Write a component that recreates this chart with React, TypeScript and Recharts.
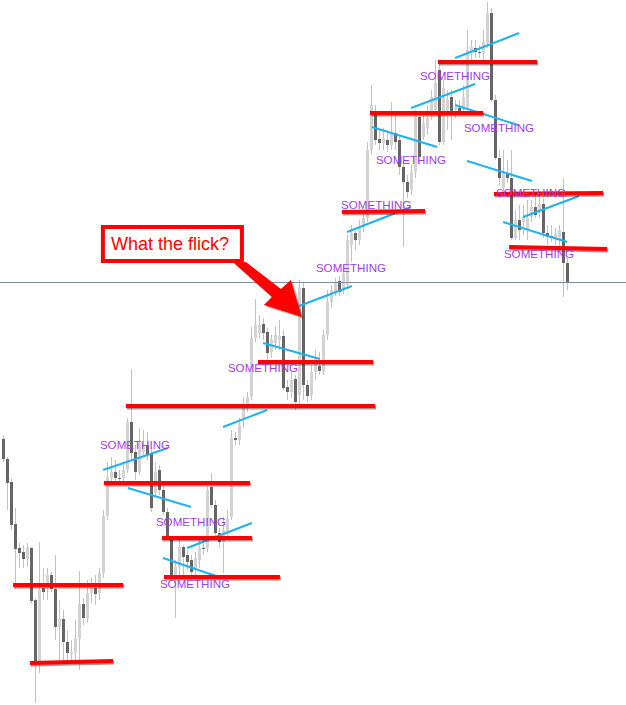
import React from 'react';
import { ComposedChart, Bar, XAxis, YAxis, ReferenceLine, ReferenceDot } from 'recharts';

// ---- candle data (EURUSD-like prices) ----
const opens = [
  1.1266, 1.1246, 1.1223, 1.1181, 1.1157, 1.1153, 1.1146, 1.1157, 1.1105, 1.1043,
  1.1117, 1.1117, 1.1130, 1.1116, 1.1078, 1.1086, 1.1063, 1.1051, 1.1052, 1.1066,
  1.1101, 1.1086, 1.1112, 1.1117, 1.1112, 1.1132, 1.1189, 1.1227, 1.1233, 1.1227,
  1.1227, 1.1235, 1.1283, 1.1253, 1.1233, 1.1253, 1.1260, 1.1252, 1.1213, 1.1235,
  1.1215, 1.1193, 1.1165, 1.1128, 1.1138, 1.1158, 1.1150, 1.1145, 1.1135, 1.1145,
  1.1157, 1.1157, 1.1218, 1.1200, 1.1172, 1.1163, 1.1173, 1.1188, 1.1267, 1.1265,
  1.1287, 1.1298, 1.1308, 1.1367, 1.1372, 1.1381, 1.1373, 1.1353, 1.1362, 1.1365,
  1.1369, 1.1318, 1.1313, 1.1326, 1.1310, 1.1417, 1.1320, 1.1310, 1.1333, 1.1339,
  1.1333, 1.1370, 1.1403, 1.1413, 1.1424, 1.1415, 1.1420, 1.1460, 1.1472, 1.1465,
  1.1478, 1.1487, 1.1555, 1.1590, 1.1566, 1.1562, 1.1565, 1.1560, 1.1572, 1.1565,
  1.1538, 1.1523, 1.1515, 1.1533, 1.1588, 1.1568, 1.1577, 1.1588, 1.1595, 1.1635,
  1.1563, 1.1595, 1.1608, 1.1595, 1.1597, 1.1595, 1.1598, 1.1652, 1.1657, 1.1653,
  1.1652, 1.1662, 1.1692, 1.1605, 1.1547, 1.1517, 1.1532, 1.1527, 1.1467, 1.1485,
  1.1483, 1.1475, 1.1488, 1.1498, 1.1493, 1.1501, 1.1472, 1.1469, 1.1467, 1.1465,
  1.1473, 1.1442,
];
const highs = [
  1.1270, 1.1248, 1.1227, 1.1197, 1.1162, 1.1160, 1.1162, 1.1158, 1.1107, 1.1163,
  1.1137, 1.1137, 1.1133, 1.1150, 1.1105, 1.1095, 1.1075, 1.1065, 1.1085, 1.1134,
  1.1107, 1.1125, 1.1127, 1.1130, 1.1137, 1.1195, 1.1243, 1.1248, 1.1245, 1.1235,
  1.1243, 1.1287, 1.1336, 1.1260, 1.1277, 1.1275, 1.1273, 1.1257, 1.1243, 1.1240,
  1.1220, 1.1197, 1.1168, 1.1145, 1.1165, 1.1160, 1.1155, 1.1150, 1.1153, 1.1165,
  1.1165, 1.1219, 1.1232, 1.1205, 1.1177, 1.1188, 1.1195, 1.1275, 1.1273, 1.1287,
  1.1308, 1.1313, 1.1378, 1.1406, 1.1390, 1.1387, 1.1377, 1.1370, 1.1379, 1.1385,
  1.1375, 1.1325, 1.1333, 1.1330, 1.1425, 1.1422, 1.1325, 1.1340, 1.1355, 1.1353,
  1.1375, 1.1415, 1.1420, 1.1427, 1.1429, 1.1440, 1.1470, 1.1480, 1.1477, 1.1485,
  1.1493, 1.1563, 1.1620, 1.1600, 1.1575, 1.1577, 1.1575, 1.1603, 1.1590, 1.1570,
  1.1545, 1.1530, 1.1540, 1.1595, 1.1593, 1.1590, 1.1600, 1.1615, 1.1645, 1.1643,
  1.1625, 1.1615, 1.1615, 1.1605, 1.1605, 1.1620, 1.1675, 1.1665, 1.1665, 1.1660,
  1.1675, 1.1703, 1.1697, 1.1610, 1.1555, 1.1555, 1.1545, 1.1555, 1.1495, 1.1500,
  1.1500, 1.1505, 1.1505, 1.1510, 1.1510, 1.1507, 1.1480, 1.1480, 1.1477, 1.1480,
  1.1527, 1.1447,
];
const lows = [
  1.1243, 1.1195, 1.1175, 1.1116, 1.1137, 1.1137, 1.1138, 1.1102, 1.1002, 1.1032,
  1.1105, 1.1105, 1.1113, 1.1065, 1.1045, 1.1045, 1.1042, 1.1042, 1.1042, 1.1035,
  1.1080, 1.1082, 1.1102, 1.1100, 1.1105, 1.1127, 1.1185, 1.1220, 1.1222, 1.1220,
  1.1220, 1.1232, 1.1245, 1.1225, 1.1230, 1.1250, 1.1245, 1.1193, 1.1210, 1.1210,
  1.1190, 1.1165, 1.1125, 1.1087, 1.1130, 1.1130, 1.1135, 1.1125, 1.1130, 1.1137,
  1.1150, 1.1153, 1.1197, 1.1165, 1.1157, 1.1132, 1.1165, 1.1185, 1.1260, 1.1260,
  1.1277, 1.1293, 1.1305, 1.1363, 1.1367, 1.1365, 1.1345, 1.1347, 1.1355, 1.1355,
  1.1315, 1.1305, 1.1307, 1.1295, 1.1300, 1.1305, 1.1303, 1.1305, 1.1325, 1.1330,
  1.1330, 1.1365, 1.1397, 1.1409, 1.1409, 1.1411, 1.1415, 1.1443, 1.1455, 1.1460,
  1.1473, 1.1483, 1.1550, 1.1560, 1.1555, 1.1555, 1.1553, 1.1555, 1.1555, 1.1530,
  1.1458, 1.1507, 1.1510, 1.1527, 1.1540, 1.1565, 1.1570, 1.1585, 1.1590, 1.1560,
  1.1560, 1.1575, 1.1565, 1.1587, 1.1590, 1.1590, 1.1595, 1.1645, 1.1647, 1.1647,
  1.1645, 1.1657, 1.1603, 1.1545, 1.1520, 1.1513, 1.1522, 1.1465, 1.1465, 1.1465,
  1.1470, 1.1465, 1.1483, 1.1487, 1.1487, 1.1467, 1.1460, 1.1463, 1.1460, 1.1457,
  1.1408, 1.1415,
];
const closes = [
  1.1246, 1.1222, 1.1180, 1.1156, 1.1152, 1.1146, 1.1157, 1.1104, 1.1042, 1.1115,
  1.1113, 1.1130, 1.1116, 1.1078, 1.1086, 1.1063, 1.1052, 1.1053, 1.1066, 1.1101,
  1.1087, 1.1112, 1.1117, 1.1111, 1.1132, 1.1189, 1.1228, 1.1233, 1.1227, 1.1226,
  1.1235, 1.1283, 1.1252, 1.1233, 1.1262, 1.1260, 1.1250, 1.1197, 1.1233, 1.1215,
  1.1193, 1.1168, 1.1129, 1.1138, 1.1158, 1.1148, 1.1143, 1.1133, 1.1147, 1.1157,
  1.1156, 1.1215, 1.1200, 1.1172, 1.1163, 1.1175, 1.1187, 1.1267, 1.1265, 1.1280,
  1.1297, 1.1308, 1.1367, 1.1380, 1.1380, 1.1372, 1.1352, 1.1365, 1.1370, 1.1369,
  1.1317, 1.1313, 1.1325, 1.1303, 1.1417, 1.1320, 1.1309, 1.1333, 1.1347, 1.1334,
  1.1370, 1.1403, 1.1415, 1.1423, 1.1413, 1.1432, 1.1465, 1.1472, 1.1465, 1.1477,
  1.1487, 1.1555, 1.1600, 1.1565, 1.1562, 1.1567, 1.1560, 1.1573, 1.1563, 1.1538,
  1.1523, 1.1513, 1.1533, 1.1590, 1.1548, 1.1582, 1.1587, 1.1608, 1.1622, 1.1563,
  1.1617, 1.1605, 1.1593, 1.1598, 1.1594, 1.1608, 1.1655, 1.1658, 1.1653, 1.1652,
  1.1663, 1.1692, 1.1605, 1.1547, 1.1527, 1.1532, 1.1527, 1.1467, 1.1485, 1.1475,
  1.1488, 1.1487, 1.1498, 1.1490, 1.1501, 1.1472, 1.1468, 1.1467, 1.1471, 1.1475,
  1.1442, 1.1423,
];

// current price line
const currentPrice = 1.14225;

// red horizontal levels: [fromBar, toBar, priceStart, priceEnd]
const redLevels = [
  [2.4, 29.9, 1.1120, 1.1120],
  [6.6, 27.4, 1.1042, 1.1044],
  [25.1, 61.6, 1.1222, 1.1222],
  [30.6, 92.9, 1.1299, 1.1299],
  [39.6, 62.1, 1.1167, 1.1167],
  [40.1, 69.1, 1.1128, 1.1128],
  [63.6, 92.4, 1.1343, 1.1343],
  [84.6, 105.4, 1.1493, 1.1494],
  [91.6, 119.9, 1.1592, 1.1592],
  [108.6, 133.4, 1.1643, 1.1643],
  [122.6, 149.9, 1.1511, 1.1512],
  [126.4, 150.9, 1.1458, 1.1456],
];

// blue trend lines: [fromBar, toBar, priceStart, priceEnd]
const blueLines = [
  [24.9, 41.1, 1.1235, 1.1257],
  [31.1, 46.9, 1.1217, 1.1198],
  [45.9, 62.1, 1.1157, 1.1182],
  [39.9, 54.6, 1.1147, 1.1127],
  [54.9, 65.9, 1.1278, 1.1295],
  [64.9, 79.1, 1.1362, 1.1346],
  [73.9, 87.1, 1.1399, 1.1419],
  [85.9, 101.9, 1.1473, 1.1498],
  [92.1, 108.4, 1.1578, 1.1558],
  [101.9, 117.9, 1.1597, 1.1621],
  [112.9, 128.6, 1.1600, 1.1580],
  [112.9, 128.9, 1.1647, 1.1672],
  [115.9, 132.1, 1.1544, 1.1524],
  [124.9, 140.9, 1.1483, 1.1463],
  [129.9, 143.9, 1.1488, 1.1509],
];

// text labels: [bar, price]
const labelText = 'SOMETHING';
const labelPoints = [
  [24.1, 1.1261],
  [38.1, 1.1184],
  [39.1, 1.1122],
  [56.1, 1.1338],
  [78.1, 1.1438],
  [84.4, 1.1501],
  [93.1, 1.1546],
  [104.1, 1.1630],
  [115.1, 1.1578],
  [123.1, 1.1513],
  [125.1, 1.1452],
];

const calloutText = 'What the flick?';
const calloutTarget = [74.6, 1.1388];

const data = opens.map((o, i) => ({
  i,
  open: o,
  high: highs[i],
  low: lows[i],
  close: closes[i],
  range: [lows[i], highs[i]],
}));

const Candle = (props: any) => {
  const { x, y, width, height, payload } = props;
  if (!payload) return null;
  const { open, close, high, low } = payload;
  const cx = Math.round(x + width / 2) + 0.5;
  const top = Math.min(y, y + height);
  const bot = Math.max(y, y + height);
  const span = high - low || 1;
  const py = (p: number) => top + ((high - p) / span) * (bot - top);
  const bull = close >= open;
  const bTop = py(Math.max(open, close));
  const bBot = py(Math.min(open, close));
  return (
    <g>
      <line x1={cx} x2={cx} y1={top} y2={bot} stroke="#c2c2c2" strokeWidth={1} />
      <rect
        x={cx - 1.5}
        y={bTop}
        width={3}
        height={Math.max(1, bBot - bTop)}
        fill={bull ? '#d3d3d3' : '#666666'}
      />
    </g>
  );
};

const RedLine = (p: any) => (
  <g>
    <line x1={p.x1 + 1} y1={p.y1 + 1.5} x2={p.x2 + 1} y2={p.y2 + 1.5} stroke="rgba(90,0,0,0.45)" strokeWidth={4} />
    <line x1={p.x1} y1={p.y1} x2={p.x2} y2={p.y2} stroke="#ff0000" strokeWidth={4} />
  </g>
);

const Label = (p: any) => (
  <text
    x={p.cx}
    y={p.cy}
    dominantBaseline="central"
    fill="#a23ddc"
    fontSize={11.6}
    fontFamily="'Liberation Sans', Arial, sans-serif"
  >
    {labelText}
  </text>
);

const Callout = (p: any) => {
  const tx = p.cx;
  const ty = p.cy;
  const arrow = [
    [-68, -54],
    [-56, -55],
    [-21, -28],
    [-11, -37],
    [0, 0],
    [-38, -12],
    [-30, -20],
  ];
  const pts = arrow.map(([dx, dy]) => `${tx + dx},${ty + dy}`).join(' ');
  const shadowPts = arrow.map(([dx, dy]) => `${tx + dx + 2},${ty + dy + 2}`).join(' ');
  return (
    <g>
      <polygon points={shadowPts} fill="rgba(0,0,0,0.25)" />
      <rect x={tx - 197} y={ty - 88} width={139} height={34} fill="rgba(0,0,0,0.3)" />
      <rect x={tx - 199} y={ty - 90} width={139} height={34} fill="#ffffff" stroke="#ff0000" strokeWidth={4} />
      <polygon points={pts} fill="#ff0000" />
      <text
        x={tx - 191}
        y={ty - 73}
        dominantBaseline="central"
        fill="#ff0000"
        fontSize={18}
        fontFamily="'Liberation Sans', Arial, sans-serif"
      >
        {calloutText}
      </text>
    </g>
  );
};

export default function App() {
  return (
    <div style={{ position: 'absolute', left: 0, top: 0, width: 626, height: 705, background: '#ffffff' }}>
      <ComposedChart width={626} height={705} data={data} margin={{ top: 0, right: 0, bottom: 0, left: 0 }}>
        <XAxis dataKey="i" type="number" domain={[-0.875, 155.625]} allowDataOverflow hide />
        <YAxis type="number" domain={[1.1, 1.1705]} allowDataOverflow hide />
        <ReferenceLine y={currentPrice} stroke="#7b8ea3" strokeWidth={1} />
        <Bar dataKey="range" barSize={3} shape={Candle} isAnimationActive={false} />
        {blueLines.map((b, k) => (
          <ReferenceLine
            key={'b' + k}
            segment={[
              { x: b[0], y: b[2] },
              { x: b[1], y: b[3] },
            ]}
            stroke="#1fb2ef"
            strokeWidth={2}
          />
        ))}
        {labelPoints.map((l, k) => (
          <ReferenceDot key={'t' + k} x={l[0]} y={l[1]} r={0} shape={Label} />
        ))}
        {redLevels.map((r, k) => (
          <ReferenceLine
            key={'r' + k}
            segment={[
              { x: r[0], y: r[2] },
              { x: r[1], y: r[3] },
            ]}
            shape={RedLine}
          />
        ))}
        <ReferenceDot x={calloutTarget[0]} y={calloutTarget[1]} r={0} shape={Callout} />
      </ComposedChart>
    </div>
  );
}
